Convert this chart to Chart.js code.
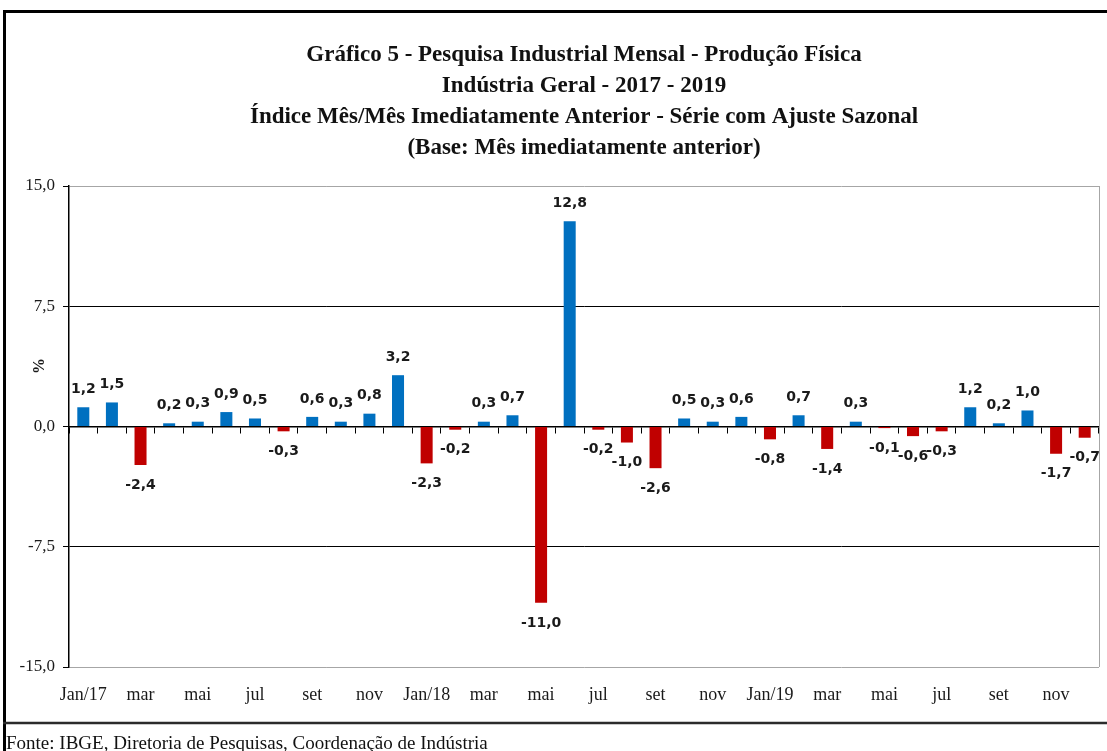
<!DOCTYPE html>
<html>
<head>
<meta charset="utf-8">
<script src="https://cdn.jsdelivr.net/npm/chart.js@4"></script>
<style>
  html, body { margin: 0; padding: 0; background: #fff; }
  #wrap { position: relative; width: 1107px; height: 751px; }
</style>
</head>
<body>
<div id="wrap"><canvas id="chart" width="1107" height="751"></canvas></div>
<script>
// ===== Data =====
const months = [
    'Jan/17', 'fev', 'mar', 'abr', 'mai', 'jun', 'jul', 'ago', 'set', 'out', 'nov', 'dez',
    'Jan/18', 'fev', 'mar', 'abr', 'mai', 'jun', 'jul', 'ago', 'set', 'out', 'nov', 'dez',
    'Jan/19', 'fev', 'mar', 'abr', 'mai', 'jun', 'jul', 'ago', 'set', 'out', 'nov', 'dez'
];
const values = [
    1.2, 1.5, -2.4, 0.2, 0.3, 0.9, 0.5, -0.3, 0.6, 0.3, 0.8, 3.2,
    -2.3, -0.2, 0.3, 0.7, -11.0, 12.8, -0.2, -1.0, -2.6, 0.5, 0.3, 0.6,
    -0.8, 0.7, -1.4, 0.3, -0.1, -0.6, -0.3, 1.2, 0.2, 1.0, -1.7, -0.7
];
const yTicks = [-15, -7.5, 0, 7.5, 15];
const titleLines = [
    'Gráfico 5 - Pesquisa Industrial Mensal - Produção Física',
    'Indústria Geral - 2017 - 2019',
    'Índice Mês/Mês Imediatamente Anterior - Série com Ajuste Sazonal',
    '(Base: Mês imediatamente anterior)'
];
const yTitle = '%';
const sourceNote = 'Fonte: IBGE, Diretoria de Pesquisas, Coordenação de Indústria';

const BLUE = '#0070c0';
const RED = '#c00000';

function fmt(v) {
    return v.toFixed(1).replace('.', ',');
}

// ===== Value labels above / below bars =====
const barValues = {
    id: 'barValues',
    afterDatasetsDraw(chart) {
        const ctx = chart.ctx;
        const meta = chart.getDatasetMeta(0);
        ctx.save();
        ctx.font = 'bold 14px "DejaVu Sans"';
        ctx.fillStyle = '#1a1a1a';
        ctx.textAlign = 'center';
        ctx.textBaseline = 'middle';
        meta.data.forEach((bar, i) => {
            const v = values[i];
            const y = v >= 0 ? bar.y - 18 : bar.y + 20;
            ctx.fillText(fmt(v), bar.x, y);
        });
        ctx.restore();
    }
};

// ===== Page frame, % label and source line =====
const pageFrame = {
    id: 'pageFrame',
    beforeDraw(chart) {
        const ctx = chart.ctx;
        ctx.save();
        ctx.fillStyle = '#fff';
        ctx.fillRect(0, 0, chart.width, chart.height);
        ctx.restore();
    },
    afterDraw(chart) {
        const ctx = chart.ctx;
        const a = chart.chartArea;
        ctx.save();

        // grey right edge of the plot area
        ctx.strokeStyle = '#a6a6a6';
        ctx.lineWidth = 1;
        ctx.beginPath();
        ctx.moveTo(a.right + 0.5, a.top);
        ctx.lineTo(a.right + 0.5, a.bottom);
        ctx.stroke();

        // outer frame
        ctx.strokeStyle = '#000';
        ctx.lineWidth = 3;
        ctx.beginPath();
        ctx.moveTo(3, 11.5);
        ctx.lineTo(chart.width, 11.5);
        ctx.moveTo(4.5, 10);
        ctx.lineTo(4.5, chart.height);
        ctx.stroke();

        ctx.strokeStyle = '#2b2b2b';
        ctx.lineWidth = 2.5;
        ctx.beginPath();
        ctx.moveTo(3, 723);
        ctx.lineTo(chart.width, 723);
        ctx.stroke();

        // y axis title
        ctx.save();
        ctx.translate(40, 366);
        ctx.rotate(-Math.PI / 2);
        ctx.font = 'bold 16px "Liberation Serif"';
        ctx.fillStyle = '#1a1a1a';
        ctx.textAlign = 'center';
        ctx.textBaseline = 'middle';
        ctx.fillText(yTitle, 0, 0);
        ctx.restore();

        // source note
        ctx.font = '19px "Liberation Serif"';
        ctx.fillStyle = '#111';
        ctx.textAlign = 'left';
        ctx.textBaseline = 'alphabetic';
        ctx.fillText(sourceNote, 6, 749);

        ctx.restore();
    }
};

// ===== Chart =====
new Chart(document.getElementById('chart'), {
    type: 'bar',
    data: {
        labels: months,
        datasets: [{
            data: values,
            backgroundColor: values.map(v => v >= 0 ? BLUE : RED),
            borderWidth: 0,
            barPercentage: 0.42,
            categoryPercentage: 1.0,
            xAxisID: 'x',
            yAxisID: 'y'
        }]
    },
    options: {
        responsive: false,
        animation: false,
        layout: { padding: { left: 0, right: 8, top: 0, bottom: 0 } },
        plugins: {
            legend: { display: false },
            tooltip: { enabled: false },
            title: {
                display: true,
                fullSize: false,
                text: titleLines,
                color: '#111',
                font: { family: '"Liberation Serif"', size: 23, weight: 'bold', lineHeight: 31 / 23 },
                padding: { top: 40, bottom: 22 }
            }
        },
        scales: {
            x: {
                position: 'bottom',
                grid: { display: false, drawTicks: false },
                border: { display: false },
                ticks: {
                    autoSkip: false,
                    maxRotation: 0,
                    padding: 17,
                    color: '#1a1a1a',
                    font: { family: '"Liberation Serif"', size: 18 },
                    callback: (val, i) => i % 2 === 0 ? months[i] : ''
                },
                afterFit: s => { s.height = 84; }
            },
            x2: {
                type: 'category',
                position: { y: 0 },
                offset: true,
                grid: {
                    offset: true,
                    drawOnChartArea: false,
                    drawTicks: true,
                    tickLength: 6,
                    color: '#000',
                    lineWidth: 1
                },
                border: { display: true, color: '#000', width: 1.5 },
                ticks: { display: false }
            },
            y: {
                min: -15,
                max: 15,
                afterBuildTicks: s => { s.ticks = yTicks.map(v => ({ value: v })); },
                grid: {
                    color: c => Math.abs(c.tick.value) === 15 ? '#a6a6a6' : '#000',
                    tickColor: '#000',
                    tickLength: 6,
                    lineWidth: 1
                },
                border: { display: true, color: '#000', width: 1.5 },
                ticks: {
                    padding: 8,
                    color: '#1a1a1a',
                    font: { family: '"Liberation Serif"', size: 17 },
                    callback: v => fmt(v)
                },
                afterFit: s => { s.width = 69; }
            }
        }
    },
    plugins: [barValues, pageFrame]
});
</script>
</body>
</html>
